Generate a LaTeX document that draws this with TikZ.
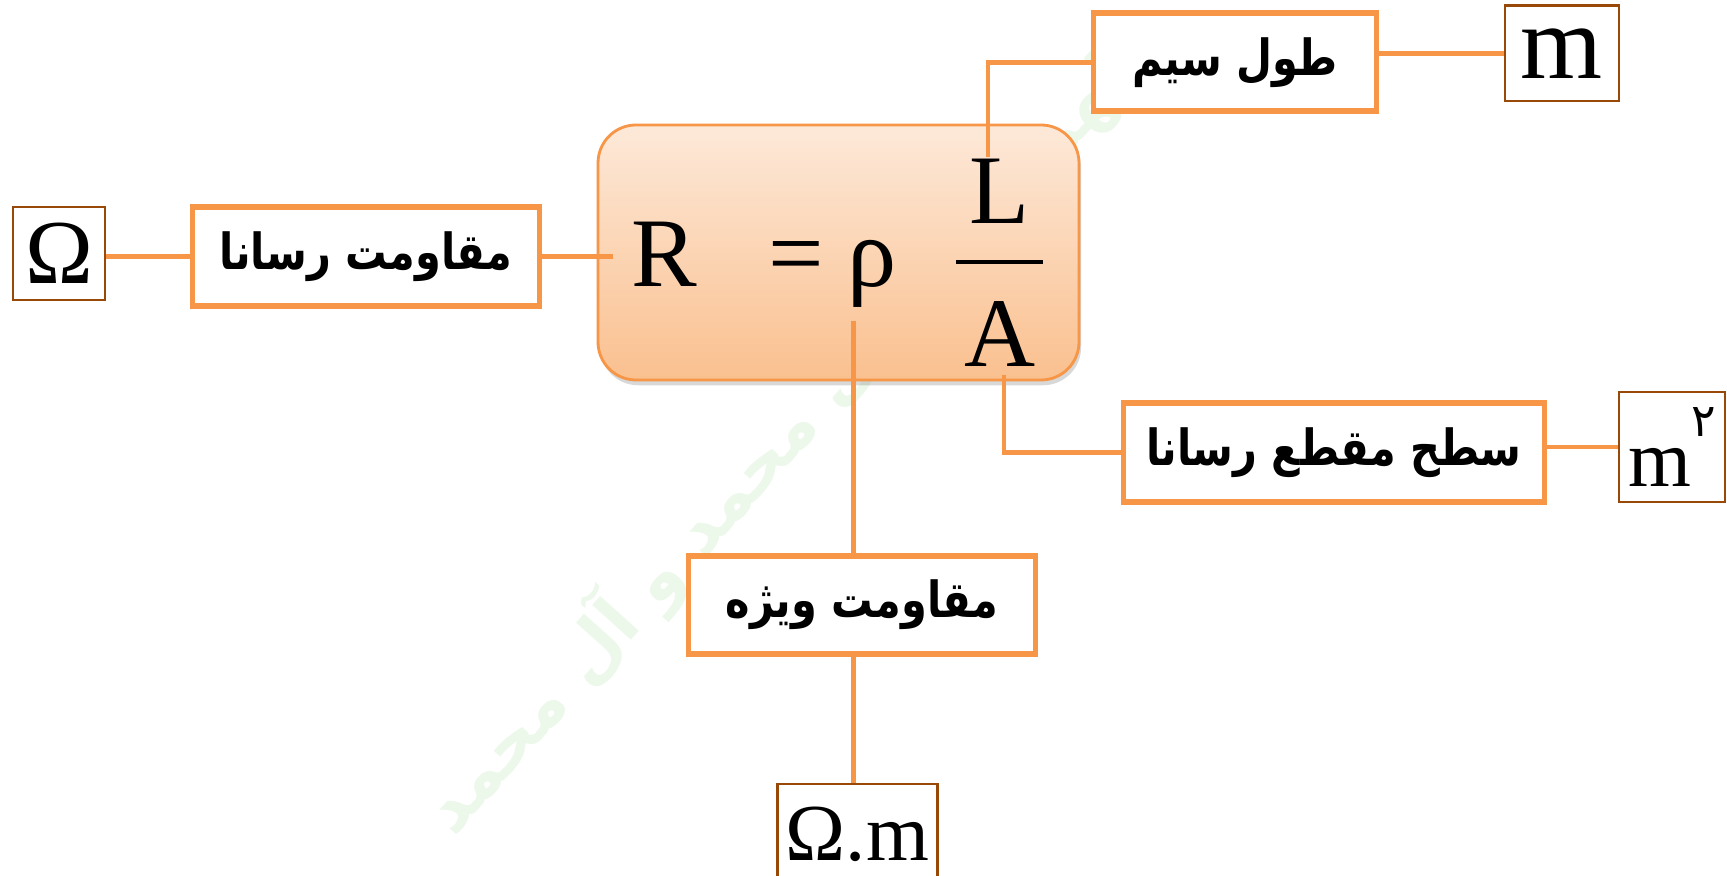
\documentclass[tikz,border=0pt]{standalone}
\usepackage{fontspec}
\usetikzlibrary{shadows}
\newfontfamily\tnr{Liberation Serif}
\newfontfamily\arabicfont[Script=Arabic]{DejaVu Sans}
\TeXXeTstate=1
\definecolor{acc}{HTML}{F79646}
\definecolor{unitbrown}{HTML}{984807}
\definecolor{gtop}{HTML}{FDE9D9}
\definecolor{gbot}{HTML}{FAC08F}
\definecolor{wmgreen}{RGB}{236,248,234}
\newcommand{\fa}[1]{\scalebox{1}[1.2]{\beginR #1\endR}}
\begin{document}
\begin{tikzpicture}[
 conn/.style={draw=acc, line width=1.35pt},
 labelbox/.style={draw=acc, line width=1.6pt, fill=white, inner sep=0pt},
 unitbox/.style={draw=unitbrown, line width=0.6pt, fill=white, inner sep=0pt},
 ptext/.style={font=\arabicfont\bfseries\fontsize{11.8}{14}\selectfont},
 formula/.style={font=\tnr\fontsize{28}{28}\selectfont, inner sep=0pt, anchor=base},
]
\useasboundingbox (0,0) rectangle (17.27,-8.76);
\fill[white] (0,0) rectangle (17.27,-8.76);

% faint watermark
\node[rotate=48, text=wmgreen, inner sep=0pt] (wm) at (7.93,-4.24)
  {\resizebox{10.7cm}{!}{\arabicfont\bfseries\beginR اللهم صل علی محمد و آل محمد\endR}};

% central formula box
\node[draw=acc, line width=0.8pt, rounded corners=0.38cm, top color=gtop, bottom color=gbot,
      minimum width=4.81cm, minimum height=2.55cm,
      drop shadow={opacity=0.3, shadow xshift=0.6pt, shadow yshift=-1.5pt}] (eqbox) at (8.385,-2.525) {};

\node[formula] (R) at (6.64,-2.867) {R};
\node[formula] (eq) at (7.965,-2.867) {=};
\node[formula] (rho) at (8.725,-2.867) {ρ};
\node[formula] (L) at (10.0,-2.233) {L};
\node[formula] (A) at (10.005,-3.67) {A};
\draw[line width=1.15pt] (9.56,-2.617) -- (10.43,-2.617);

\coordinate (Rin) at (6.13,-2.566);
\coordinate (Ltop) at (9.88,-1.567);
\coordinate (rhob) at (8.535,-3.207);
\coordinate (Abot) at (10.04,-3.75);

% label and unit boxes
\node[unitbox, minimum width=0.92cm, minimum height=0.93cm] (om) at (0.59,-2.535) {\tnr\fontsize{26}{26}\selectfont Ω};
\node[labelbox, minimum width=3.47cm, minimum height=0.99cm, ptext] (res) at (3.66,-2.566) {\fa{مقاومت رسانا}};
\node[labelbox, minimum width=2.83cm, minimum height=0.98cm, ptext] (len) at (12.35,-0.622) {\fa{طول سیم}};
\node[unitbox, minimum width=1.145cm, minimum height=0.958cm] (mb) at (15.618,-0.534) {\tnr\fontsize{30}{30}\selectfont m};
\node[labelbox, minimum width=4.21cm, minimum height=0.99cm, ptext] (sec) at (13.338,-4.526) {\fa{سطح مقطع رسانا}};
\node[unitbox, minimum width=1.06cm, minimum height=1.10cm] (m2) at (16.72,-4.47)
  {\tnr\fontsize{23}{23}\selectfont m\raisebox{0.5cm}{\arabicfont\fontsize{13}{13}\selectfont ۲}};
\node[labelbox, minimum width=3.47cm, minimum height=0.98cm, ptext] (vij) at (8.619,-6.05) {\fa{مقاومت ویژه}};
\node[unitbox, minimum width=1.6cm, minimum height=1.0cm] (omm) at (8.575,-8.34) {\tnr\fontsize{23}{23}\selectfont Ω.m};

% connectors
\draw[conn] (om.east |- res.west) -- (res.west);
\draw[conn] (res.east) -- (Rin);
\draw[conn] (Ltop) |- (len.west);
\draw[conn] (len.east |- mb.west) -- (mb.west);
\draw[conn] (Abot) |- (sec.west);
\draw[conn] (sec.east |- m2.west) -- (m2.west);
\draw[conn] (rhob) -- (rhob |- vij.north);
\draw[conn] (rhob |- vij.south) -- (rhob |- omm.north);
\end{tikzpicture}
\end{document}
